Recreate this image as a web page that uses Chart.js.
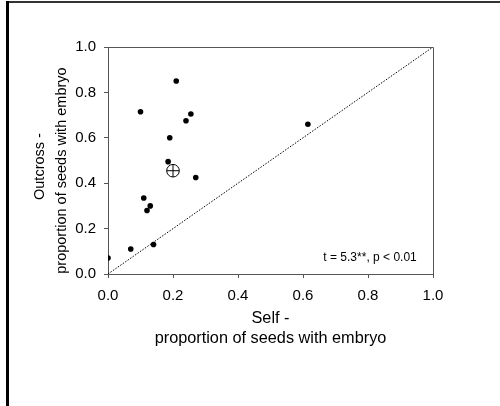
<!DOCTYPE html>
<html>
<head>
<meta charset="utf-8">
<script src="https://cdn.jsdelivr.net/npm/chart.js@4.4.1/dist/chart.umd.min.js"></script>
<style>
  html, body { margin: 0; padding: 0; background: #fff; }
  #wrap { position: relative; width: 500px; height: 406px; overflow: hidden; }
  #topLine { position: absolute; left: 6px; top: 1px; width: 494px; height: 2px; background: #333; }
  #leftLine { position: absolute; left: 6px; top: 1px; width: 3px; height: 405px; background: #000; }
  canvas { position: absolute; left: 0; top: 0; }
</style>
</head>
<body>
<div id="wrap">
  <canvas id="seedChart" width="500" height="406"></canvas>
  <div id="topLine"></div>
  <div id="leftLine"></div>
</div>
<script>
// proportion of seeds with embryo, per plant
var selfValues     = [0.00, 0.07, 0.14, 0.10, 0.11, 0.12, 0.13, 0.185, 0.19, 0.21, 0.24, 0.255, 0.27, 0.615];
var outcrossValues = [0.07, 0.11, 0.13, 0.715, 0.335, 0.28, 0.30, 0.495, 0.60, 0.85, 0.675, 0.705, 0.425, 0.66];

// mean
var meanSelf = 0.20;
var meanOutcross = 0.455;

// 1:1 line
var diagX = [0, 1];
var diagY = [0, 1];

var tickValues = [0.0, 0.2, 0.4, 0.6, 0.8, 1.0];
var statText = 't = 5.3**, p < 0.01';

var fontFamily = '"Liberation Sans", Arial, Helvetica, sans-serif';
var axisColor = '#555';

var points = selfValues.map(function (v, i) {
    return { x: v, y: outcrossValues[i] };
});
var diagonal = diagX.map(function (v, i) {
    return { x: v, y: diagY[i] };
});

var ctx = document.getElementById('seedChart').getContext('2d');
var seedChart = new Chart(ctx, {
    type: 'scatter',
    data: {
        datasets: [
            {
                type: 'line',
                label: '1:1',
                data: diagonal,
                borderColor: '#000',
                borderWidth: 1,
                borderDash: [1.5, 1.5],
                pointRadius: 0,
                fill: false,
                order: 3
            },
            {
                label: 'plants',
                data: points,
                pointRadius: 2.8,
                pointHoverRadius: 2.8,
                backgroundColor: '#000',
                borderColor: '#000',
                borderWidth: 0,
                order: 2
            },
            {
                label: 'mean circle',
                data: [{ x: meanSelf, y: meanOutcross }],
                pointStyle: 'circle',
                pointRadius: 6.3,
                backgroundColor: '#fff',
                borderColor: '#000',
                borderWidth: 1,
                order: 1
            },
            {
                label: 'mean cross',
                data: [{ x: meanSelf, y: meanOutcross }],
                pointStyle: 'cross',
                pointRadius: 6.3,
                borderColor: '#000',
                borderWidth: 1,
                order: 0
            }
        ]
    },
    options: {
        responsive: false,
        animation: false,
        events: [],
        layout: {
            autoPadding: false,
            padding: { left: 0, top: 47, right: 67, bottom: 52 }
        },
        scales: {
            x: {
                type: 'linear',
                min: 0,
                max: 1,
                afterBuildTicks: function (scale) {
                    scale.ticks = tickValues.map(function (v) { return { value: v }; });
                },
                afterFit: function (scale) { scale.height = 80; },
                border: { display: true, color: axisColor, width: 1 },
                grid: { drawOnChartArea: false, drawTicks: true, tickLength: 4, color: axisColor },
                ticks: {
                    padding: 9,
                    color: '#000',
                    maxRotation: 0,
                    font: { family: fontFamily, size: 15 },
                    callback: function (v) { return Number(v).toFixed(1); }
                },
                title: {
                    display: true,
                    text: ['Self -', 'proportion of seeds with embryo'],
                    color: '#000',
                    font: { family: fontFamily, size: 16.3, lineHeight: 20 / 16.3 },
                    padding: { top: 0, bottom: 5.3 }
                }
            },
            y: {
                type: 'linear',
                min: 0,
                max: 1,
                afterBuildTicks: function (scale) {
                    scale.ticks = tickValues.map(function (v) { return { value: v }; });
                },
                afterFit: function (scale) { scale.width = 108; },
                border: { display: true, color: axisColor, width: 1 },
                grid: { drawOnChartArea: false, drawTicks: true, tickLength: 4, color: axisColor },
                ticks: {
                    padding: 8,
                    color: '#000',
                    font: { family: fontFamily, size: 15 },
                    callback: function (v) { return Number(v).toFixed(1); }
                },
                title: {
                    display: true,
                    // trailing spaces nudge the rotated lines down a little, like the original
                    text: ['Outcross -   ', 'proportion of seeds with embryo     '],
                    color: '#000',
                    font: { family: fontFamily, size: 14.5, lineHeight: 22 / 14.5 },
                    padding: { top: 29, bottom: 0 }
                }
            }
        },
        plugins: {
            legend: { display: false },
            tooltip: { enabled: false }
        }
    },
    plugins: [{
        id: 'boxAndLabel',
        afterDraw: function (chart) {
            var c = chart.ctx;
            var a = chart.chartArea;
            c.save();
            // close the plot box (top and right sides)
            c.strokeStyle = axisColor;
            c.lineWidth = 1;
            c.beginPath();
            c.moveTo(a.left, a.top + 0.5);
            c.lineTo(a.right + 0.5, a.top + 0.5);
            c.lineTo(a.right + 0.5, a.bottom);
            c.stroke();
            // test statistic
            var xs = chart.scales.x, ys = chart.scales.y;
            c.fillStyle = '#000';
            c.font = '12px ' + fontFamily;
            c.textAlign = 'right';
            c.textBaseline = 'middle';
            c.fillText(statText, xs.getPixelForValue(0.95), ys.getPixelForValue(0.07));
            c.restore();
        }
    }]
});
</script>
</body>
</html>
